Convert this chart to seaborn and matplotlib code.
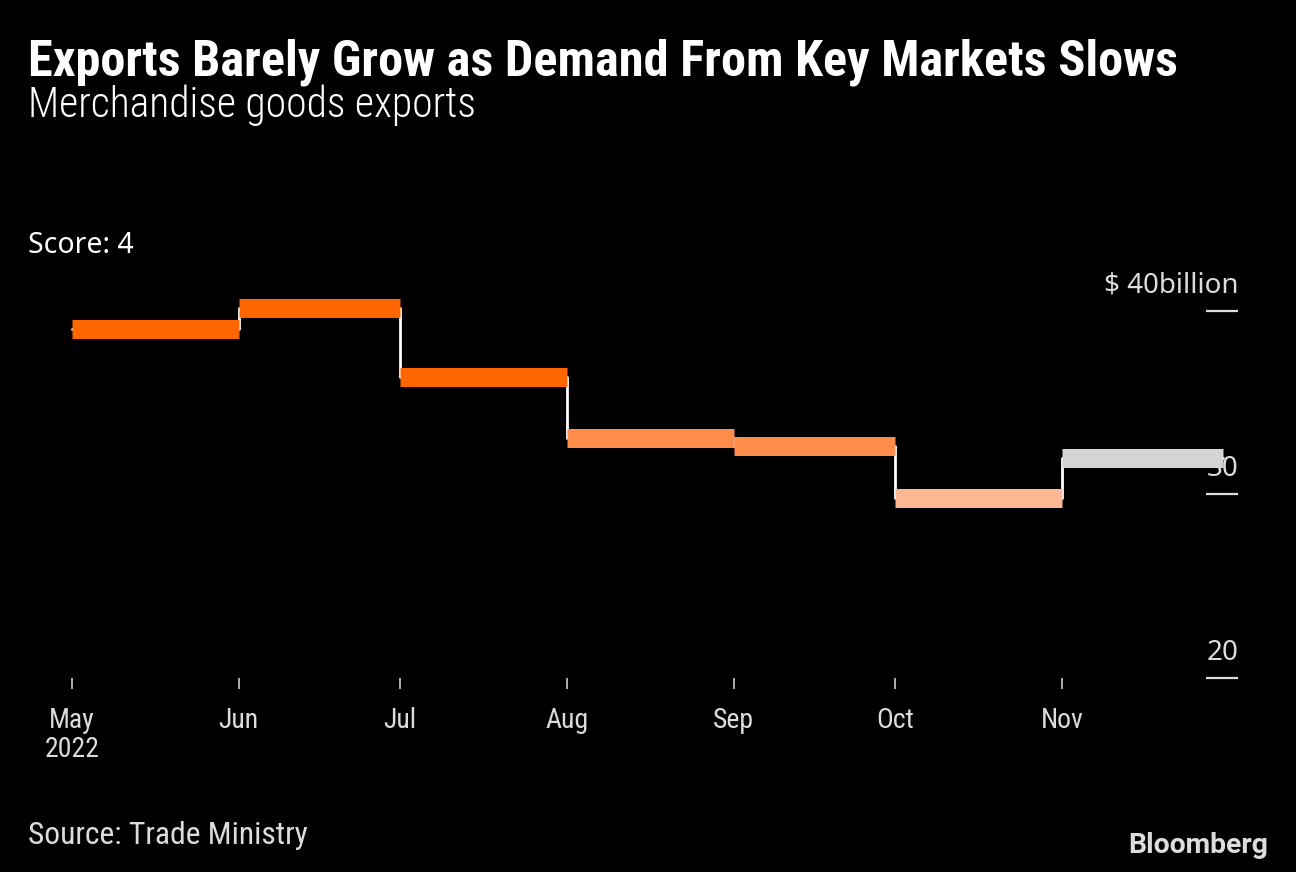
import matplotlib
matplotlib.use("Agg")
import matplotlib.pyplot as plt
import seaborn as sns
import pandas as pd
from matplotlib import font_manager as fm

# ---- data ----
months = ["2022-05-01", "2022-06-01", "2022-07-01", "2022-08-01",
          "2022-09-01", "2022-10-01", "2022-11-01"]
period_end = "2022-12-01"
exports = [38.98, 40.15, 36.39, 33.06, 32.63, 29.81, 31.97]
bar_colors = ["#ff6600", "#ff6600", "#ff6600", "#ff8c4a", "#ff8c4a", "#ffb894", "#d4d4d4"]
x_tick_labels = ["May\n2022", "Jun", "Jul", "Aug", "Sep", "Oct", "Nov"]
y_ticks = [20, 30, 40]
y_tick_labels = ["20", "30", "$ 40billion"]

title = "Exports Barely Grow as Demand From Key Markets Slows"
subtitle = "Merchandise goods exports"
score_text = "Score: 4"
source = "Source: Trade Ministry"

# ---- fonts ----
names = {f.name for f in fm.fontManager.ttflist}
def pick(*c):
    for n in c:
        if n in names:
            return n
    return "DejaVu Sans"
narrow = pick("Liberation Sans Narrow", "Roboto Condensed", "Roboto", "Liberation Sans")
human = pick("Noto Sans", "Open Sans", "DejaVu Sans")

sns.set_theme(style="dark", rc={"axes.facecolor": "black", "figure.facecolor": "black",
                                "savefig.facecolor": "black"})
plt.rcParams["font.family"] = [narrow, "DejaVu Sans"]

W, H = 1296, 872
fig = plt.figure(figsize=(W / 100, H / 100), dpi=100)
ax = fig.add_axes([60 / W, 1 - 677.7 / H, 1178 / W, (677.7 - 274) / H])

starts = pd.to_datetime(months)
ends = pd.to_datetime(months[1:] + [period_end])

df = pd.DataFrame({"date": pd.to_datetime(months + [period_end]),
                   "value": exports + [exports[-1]]})
sns.lineplot(data=df, x="date", y="value", drawstyle="steps-post", color="white",
             lw=2.0, ax=ax, zorder=3)
ax.hlines(exports, starts, ends, colors=bar_colors, lw=19 * 0.72, zorder=4)

px_per_day = 5.38
ax.set_xlim(starts[0] - pd.Timedelta(days=12 / px_per_day),
            starts[0] + pd.Timedelta(days=(1238 - 72) / px_per_day))
ax.set_ylim(20, 42)
ax.set_xlabel("")
ax.set_ylabel("")
for s in ax.spines.values():
    s.set_visible(False)

ax.set_xticks(starts)
ax.set_xticklabels(x_tick_labels, fontsize=20, color="#dcdcdc", linespacing=1.1)
ax.tick_params(axis="x", length=8, width=1.2, color="#cccccc", pad=13, bottom=True)

ax.yaxis.tick_right()
ax.set_yticks(y_ticks)
ax.set_yticklabels([])
ax.tick_params(axis="y", direction="in", length=23, width=1.6, color="#dddddd", right=True, left=False)
for v, lab in zip(y_ticks, y_tick_labels):
    ax.annotate(lab, xy=(1.0, v), xycoords=("axes fraction", "data"), xytext=(0.5, 13),
                textcoords="offset points", ha="right", va="baseline", fontsize=20,
                color="#dcdcdc", family=[human, "DejaVu Sans"], zorder=1)

def fx(x):
    return x / W
def fy(y):
    return 1 - y / H

renderer = fig.canvas.get_renderer()
def fit(t, width):
    bb = t.get_window_extent(renderer=renderer)
    t.set_fontsize(t.get_fontsize() * width / bb.width)

t1 = fig.text(fx(28), fy(76), title, color="white", fontsize=30, fontweight="bold",
              ha="left", va="baseline")
fit(t1, 1150)
t2 = fig.text(fx(28), fy(117), subtitle, color="white", fontsize=24, fontweight="light",
              ha="left", va="baseline")
fit(t2, 449)
fig.text(fx(28), fy(253), score_text, color="white", fontsize=20.5, ha="left", va="baseline",
         family=[human, "DejaVu Sans"])
t4 = fig.text(fx(28), fy(844), source, color="#dcdcdc", fontsize=20, ha="left", va="baseline")
fit(t4, 280)
t5 = fig.text(fx(1268), fy(853), "Bloomberg", color="#dcdcdc", fontsize=20, fontweight="bold",
              ha="right", va="baseline", family=[pick("Roboto", "Liberation Sans"), "DejaVu Sans"])
fit(t5, 140)

fig.savefig("out.png", dpi=100)
